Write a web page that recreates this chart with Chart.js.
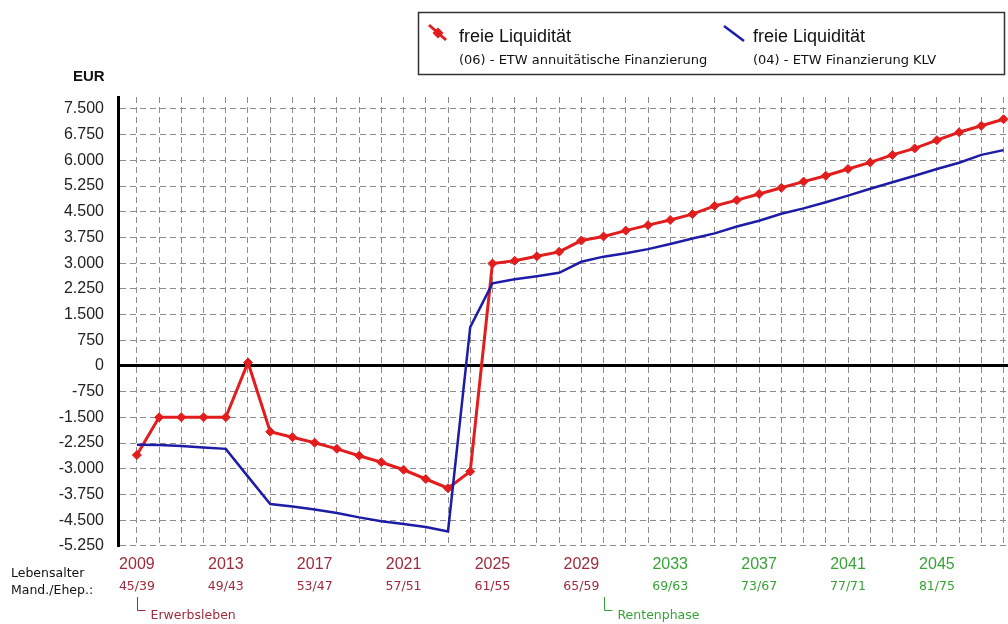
<!DOCTYPE html>
<html lang="de">
<head>
  <meta charset="UTF-8">
  <title>freie Liquidität</title>
  <script src="https://cdn.jsdelivr.net/npm/chart.js"></script>
  <style>
    html, body { margin: 0; padding: 0; background: #fff; }
    #chart { display: block; }
  </style>
</head>
<body>
  <canvas id="chart" width="1008" height="624"></canvas>

  <script>
    // Jahre
    const years = [2009, 2010, 2011, 2012, 2013, 2014, 2015, 2016, 2017, 2018,
                   2019, 2020, 2021, 2022, 2023, 2024, 2025, 2026, 2027, 2028,
                   2029, 2030, 2031, 2032, 2033, 2034, 2035, 2036, 2037, 2038,
                   2039, 2040, 2041, 2042, 2043, 2044, 2045, 2046, 2047, 2048];

    // freie Liquidität (06) - ETW annuitätische Finanzierung
    const annuitaet = [-2600, -1500, -1500, -1500, -1500, 100, -1920, -2080, -2240, -2420,
                       -2620, -2810, -3030, -3300, -3570, -3080, 2990, 3070, 3200, 3330,
                       3660, 3780, 3950, 4110, 4260, 4430, 4670, 4840, 5020, 5200,
                       5380, 5550, 5750, 5940, 6160, 6350, 6590, 6820, 7010, 7200];

    // freie Liquidität (04) - ETW Finanzierung KLV
    const klv = [-2300, -2310, -2340, -2380, -2420, -3230, -4030, -4100, -4190, -4290,
                 -4420, -4530, -4610, -4700, -4830, 1130, 2410, 2530, 2620, 2720,
                 3040, 3190, 3290, 3410, 3560, 3720, 3870, 4070, 4240, 4440,
                 4600, 4780, 4970, 5170, 5360, 5550, 5750, 5930, 6160, 6300];

    // Achsenbeschriftung
    const tickYears = [2009, 2013, 2017, 2021, 2025, 2029, 2033, 2037, 2041, 2045];
    const tickAges = ['45/39', '49/43', '53/47', '57/51', '61/55', '65/59', '69/63', '73/67', '77/71', '81/75'];
    const yTicks = [-5250, -4500, -3750, -3000, -2250, -1500, -750, 0, 750, 1500,
                    2250, 3000, 3750, 4500, 5250, 6000, 6750, 7500];

    // Lebensphasen
    const phaseYears = [2009, 2030];
    const phaseNames = ['Erwerbsleben', 'Rentenphase'];

    // Legende
    const seriesNames = ['freie Liquidität', 'freie Liquidität'];
    const seriesSubs = ['(06) - ETW annuitätische Finanzierung', '(04) - ETW Finanzierung KLV'];

    const RED = '#e11d1d';
    const BLUE = '#1c1ca6';
    const DARKRED = '#9e2a3a';
    const GREEN = '#37a337';
    const SANS = '"Liberation Sans", Arial, sans-serif';
    const SMALL = '"DejaVu Sans", sans-serif';

    function fmt(v) {
      const s = Math.abs(v).toString().replace(/\B(?=(\d{3})+(?!\d))/g, '.');
      return (v < 0 ? '-' : '') + s;
    }
    function phaseColor(year) {
      return year < phaseYears[1] ? DARKRED : GREEN;
    }

    // Texte und Legende außerhalb der Achsen
    const extras = {
      id: 'extras',
      afterDraw(chart) {
        const ctx = chart.ctx;
        const xs = chart.scales.x;
        ctx.save();
        ctx.textBaseline = 'middle';
        ctx.textAlign = 'left';

        ctx.fillStyle = '#111';
        ctx.font = 'bold 15px ' + SANS;
        ctx.fillText('EUR', 73, 77);

        ctx.font = '12.5px ' + SMALL;
        ctx.fillStyle = '#111';
        ctx.fillText('Lebensalter', 11, 574);
        ctx.fillText('Mand./Ehep.:', 11, 591);

        phaseYears.forEach((yr, i) => {
          const px = Math.round(xs.getPixelForValue(yr)) + 0.5;
          const col = i === 0 ? DARKRED : GREEN;
          ctx.strokeStyle = col;
          ctx.lineWidth = 1;
          ctx.beginPath();
          ctx.moveTo(px, 597);
          ctx.lineTo(px, 610.5);
          ctx.lineTo(px + 8, 610.5);
          ctx.stroke();
          ctx.fillStyle = col;
          ctx.fillText(phaseNames[i], px + 13, 616);
        });

        // Legende
        ctx.strokeStyle = '#333';
        ctx.lineWidth = 1.5;
        ctx.strokeRect(418.5, 12.5, 586, 62);

        ctx.strokeStyle = RED;
        ctx.lineWidth = 3;
        ctx.beginPath();
        ctx.moveTo(429, 25);
        ctx.lineTo(446, 40);
        ctx.stroke();
        ctx.fillStyle = RED;
        ctx.beginPath();
        ctx.moveTo(438, 27.5);
        ctx.lineTo(443.5, 33);
        ctx.lineTo(438, 38.5);
        ctx.lineTo(432.5, 33);
        ctx.closePath();
        ctx.fill();

        ctx.strokeStyle = BLUE;
        ctx.lineWidth = 2.5;
        ctx.beginPath();
        ctx.moveTo(724, 26);
        ctx.lineTo(744, 41);
        ctx.stroke();

        const lx = [459, 753];
        lx.forEach((x, i) => {
          ctx.fillStyle = '#111';
          ctx.font = '18px ' + SANS;
          ctx.fillText(seriesNames[i], x, 37);
          ctx.font = '13px ' + SMALL;
          ctx.fillText(seriesSubs[i], x, 61);
        });
        ctx.restore();
      }
    };

    const ctx = document.getElementById('chart').getContext('2d');
    new Chart(ctx, {
      type: 'line',
      data: {
        datasets: [
          {
            label: seriesNames[1] + ' ' + seriesSubs[1],
            data: klv.map((v, i) => ({ x: years[i], y: v })),
            borderColor: BLUE,
            borderWidth: 2.5,
            pointRadius: 0,
            tension: 0,
            clip: false
          },
          {
            label: seriesNames[0] + ' ' + seriesSubs[0],
            data: annuitaet.map((v, i) => ({ x: years[i], y: v })),
            borderColor: RED,
            backgroundColor: RED,
            borderWidth: 3,
            pointStyle: 'rectRot',
            pointRadius: 4.5,
            pointBorderWidth: 1,
            tension: 0,
            clip: false
          }
        ]
      },
      options: {
        responsive: false,
        animation: false,
        devicePixelRatio: 1,
        layout: { autoPadding: false, padding: { top: 97, left: 0, right: 0, bottom: 0 } },
        plugins: {
          legend: { display: false },
          tooltip: { enabled: false }
        },
        scales: {
          x: {
            type: 'linear',
            position: 'bottom',
            min: 2008.15,
            max: 2048.2,
            afterBuildTicks: s => { s.ticks = years.map(v => ({ value: v })); },
            afterFit: s => { s.height = 30; },
            grid: { color: '#8c8c8c', lineWidth: 1, drawTicks: true, tickLength: 8, tickColor: 'rgba(0,0,0,0)' },
            border: { display: false, dash: [6, 4] },
            ticks: {
              autoSkip: false,
              maxRotation: 0,
              padding: 0,
              font: { family: SANS, size: 16 },
              color: c => phaseColor(c.tick ? c.tick.value : 0),
              callback: v => tickYears.includes(v) ? String(v) : ''
            }
          },
          x2: {
            type: 'linear',
            position: 'bottom',
            min: 2008.15,
            max: 2048.2,
            afterBuildTicks: s => { s.ticks = tickYears.map(v => ({ value: v })); },
            afterFit: s => { s.height = 47.5; },
            grid: { display: false, drawTicks: false },
            border: { display: false },
            ticks: {
              autoSkip: false,
              maxRotation: 0,
              padding: 3,
              font: { family: SMALL, size: 12.5 },
              color: c => phaseColor(c.tick ? c.tick.value : 0),
              callback: v => tickAges[tickYears.indexOf(v)]
            }
          },
          y: {
            min: -5270,
            max: 7850,
            afterBuildTicks: s => { s.ticks = yTicks.map(v => ({ value: v })); },
            afterFit: s => { s.width = 118; },
            grid: {
              drawTicks: false,
              color: c => (c.tick && c.tick.value === 0) ? '#000' : '#8c8c8c',
              lineWidth: c => (c.tick && c.tick.value === 0) ? 3 : 1
            },
            border: {
              display: true,
              color: '#000',
              width: 3,
              dash: c => (c.tick && c.tick.value === 0) ? [] : [6, 4]
            },
            ticks: {
              padding: 14,
              font: { family: SANS, size: 16 },
              color: '#222',
              callback: v => fmt(v)
            }
          }
        }
      },
      plugins: [extras]
    });
  </script>
</body>
</html>
